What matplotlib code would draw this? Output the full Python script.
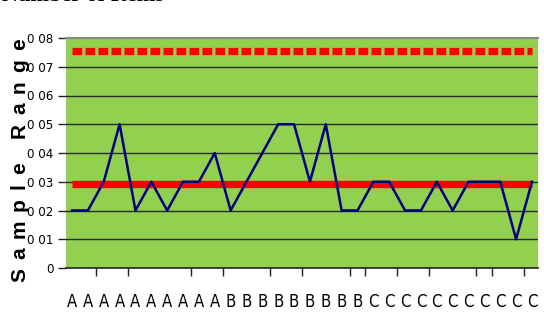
import matplotlib
matplotlib.use("Agg")
import matplotlib.pyplot as plt
from matplotlib.font_manager import FontProperties
import numpy as np

# Sample labels (lot A, B, C) and the range of each sample
labels = ["A"] * 10 + ["B"] * 9 + ["C"] * 11
ranges = [0.02, 0.02, 0.03, 0.05, 0.02, 0.03, 0.02, 0.03, 0.03, 0.04,
          0.02, 0.03, 0.04, 0.05, 0.05, 0.03, 0.05, 0.02, 0.02, 0.03,
          0.03, 0.02, 0.02, 0.03, 0.02, 0.03, 0.03, 0.03, 0.01, 0.03]
ucl_factor = 2.574  # D4 for subgroups of 3
y_ticks = [0, 0.01, 0.02, 0.03, 0.04, 0.05, 0.06, 0.07, 0.08]
y_tick_labels = ["0", "0 01", "0 02", "0 03", "0 04", "0 05", "0 06", "0 07", "0 08"]
# category boundaries that carry a tick mark
tick_bounds = [2, 4, 8, 10, 13, 15, 18, 19, 21, 23, 26, 27, 29]
y_title = "Sample Range"
top_title = "Number of Items"

r_bar = float(np.mean(ranges))
ucl = ucl_factor * r_bar
n = len(ranges)
x = np.arange(n)

W, H, DPI = 5.44, 3.2, 100
fig = plt.figure(figsize=(W, H), dpi=DPI)
ax = fig.add_axes([66 / 544, 1 - 268 / 320, 472 / 544, 230 / 320])
ax.set_facecolor("#92D050")

ax.set_xlim(-0.38, n - 1 + 0.38)
ax.set_ylim(0, 0.08)

# horizontal gridlines
for v in y_ticks[1:-1]:
    ax.axhline(v, color="#2a2a2a", lw=1.0, zorder=1)

ax.plot(x, [ucl] * n, color="#FF0000", lw=5.2, linestyle=(0, (1.35, 0.45)),
        dash_capstyle="butt", zorder=3)
ax.plot(x, [r_bar] * n, color="#FF0000", lw=5.3, solid_capstyle="butt", zorder=3)
ax.plot(x, ranges, color="#000080", lw=1.8, zorder=4)

ax.spines["right"].set_visible(False)
ax.spines["left"].set_visible(False)
ax.spines["top"].set_color("#888888")
ax.spines["top"].set_linewidth(1.5)
ax.spines["bottom"].set_color("#222222")
ax.spines["bottom"].set_linewidth(1.2)

ax.set_yticks(y_ticks)
ax.set_yticklabels(y_tick_labels, fontsize=9.5, family="DejaVu Sans",
                   stretch="condensed")
ax.tick_params(axis="y", length=6, width=1, color="#222222", pad=3)

ax.set_xticks(np.array(tick_bounds) - 0.5)
ax.set_xticklabels([])
ax.tick_params(axis="x", length=6, width=1, color="#222222")
for i, lab in enumerate(labels):
    ax.text(i, -0.0088, lab, ha="center", va="top",
            fontsize=12, family="DejaVu Sans", stretch="condensed", clip_on=False)

# letter-spaced vertical axis title, laid out one glyph at a time
renderer = fig.canvas.get_renderer()
fp = FontProperties(family="Liberation Sans", weight="bold", size=15)
widths = [renderer.get_text_width_height_descent(c, fp, ismath=False)[0]
          for c in y_title]
span_px = 282 - 38
extra = (span_px - sum(widths)) / (len(y_title) - 1)
x_px = 25
y_px = 320 - 282
for c, w in zip(y_title, widths):
    fig.text(x_px / 544, y_px / 320, c, rotation=90, rotation_mode="anchor",
             ha="left", va="baseline", fontproperties=fp)
    y_px += w + extra

fig.text(0.004, 1 - 1 / 320, top_title, ha="left", va="baseline",
         fontsize=16, fontweight="bold", family="Liberation Serif")

fig.savefig("out.png", dpi=DPI)
